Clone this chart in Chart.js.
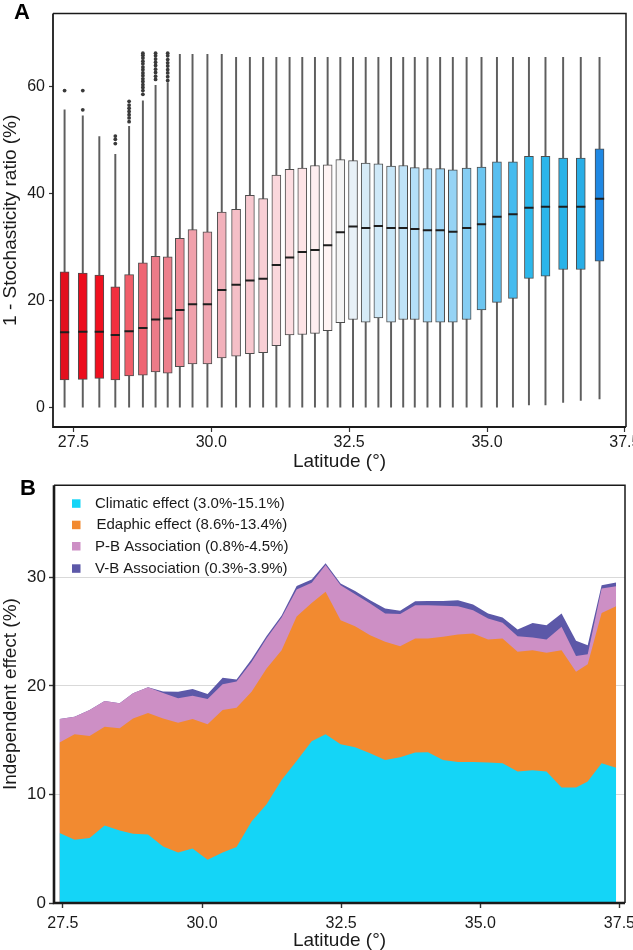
<!DOCTYPE html>
<html>
<head>
<meta charset="utf-8">
<script src="https://cdn.jsdelivr.net/npm/chart.js@4.4.0/dist/chart.umd.min.js"></script>
<style>
  html, body { margin: 0; padding: 0; background: #fff; }
  #chartA { position: absolute; left: 0; top: 0; }
  #chartB { position: absolute; left: 0; top: 472px; }
</style>
</head>
<body>
<canvas id="chartA" width="633" height="472"></canvas>
<canvas id="chartB" width="633" height="478"></canvas>
<script>
// ---- panel A : box plots per latitude bin ----
const latA = [27.34, 27.67, 27.97, 28.26, 28.51, 28.76, 28.99, 29.21, 29.43, 29.66, 29.93, 30.19, 30.45,
  30.70, 30.94, 31.18, 31.42, 31.65, 31.88, 32.11, 32.34, 32.57, 32.80, 33.03, 33.26, 33.48,
  33.69, 33.92, 34.15, 34.38, 34.63, 34.90, 35.18, 35.47, 35.76, 36.06, 36.38, 36.70, 37.04];
const lowA = [0, 0, 0, 0, 0, 0, 0, 0, 0, 0, 0, 0, 0, 0, 0, 0, 0, 0, 0, 0, 0, 0, 0, 0, 0, 0,
  0, 0, 0, 0, 0, 0, 0, 0, 0.55, 0.55, 1.0, 1.35, 1.65];
const q1A = [5.2, 5.3, 5.5, 5.2, 5.95, 6.1, 6.7, 6.45, 7.7, 8.2, 8.2, 9.3, 9.65, 10.1, 10.3, 11.6, 13.6,
  13.7, 13.9, 14.4, 15.9, 16.5, 16.0, 16.8, 16.0, 16.5, 16.5, 16.0, 16.0, 16.0, 16.5, 18.3, 19.7,
  20.45, 24.2, 24.6, 25.85, 25.85, 27.4];
const medA = [14.1, 14.2, 14.2, 13.6, 14.3, 14.9, 16.5, 16.7, 18.3, 19.35, 19.35, 22.0, 23.0, 23.8, 24.1,
  26.7, 28.1, 29.1, 29.5, 30.4, 32.8, 33.9, 33.6, 34.0, 33.6, 33.6, 33.4, 33.2, 33.2, 32.9, 33.6,
  34.3, 35.7, 36.2, 37.4, 37.6, 37.6, 37.6, 39.1];
const q3A = [25.4, 25.2, 24.8, 22.6, 24.9, 27.1, 28.3, 28.2, 31.7, 33.3, 32.9, 36.6, 37.1, 39.7, 39.1,
  43.5, 44.6, 44.8, 45.3, 45.4, 46.4, 46.2, 45.75, 45.6, 45.2, 45.3, 44.9, 44.7, 44.7, 44.5, 44.8,
  45.0, 46.0, 46.0, 47.0, 47.0, 46.7, 46.7, 48.4];
const highA = [55.7, 54.6, 50.7, 47.4, 52.6, 57.4, 60.3, 60.8, 66.1, 66.1, 66.1, 66.1, 65.5, 65.5, 65.5,
  65.5, 65.5, 65.5, 65.5, 65.5, 65.5, 65.5, 65.5, 65.5, 65.5, 65.5, 65.5, 65.5, 65.5, 65.5, 65.5,
  65.5, 65.5, 65.5, 65.5, 65.5, 65.5, 65.5, 65.5];
// outliers of the first bins (the other bins have none)
const outliersA = [
  [59.3],
  [59.3, 55.7],
  [],
  [50.8, 50.2, 49.4],
  [57.3, 56.6, 56.0, 55.4, 54.8, 54.2, 53.5],
  [66.3, 65.9, 65.4, 64.8, 64.3, 63.7, 63.2, 62.6, 62.1, 61.5, 61.0, 60.4, 59.9, 59.3, 58.6],
  [66.3, 65.8, 65.2, 64.6, 64.0, 63.3, 62.7, 62.0, 61.4],
  [66.3, 65.8, 65.1, 64.5, 63.9, 63.2, 62.6, 61.9, 61.2]
];
const yTicksA = [0, 20, 40, 60];
const xTicks = [27.5, 30, 32.5, 35, 37.5];

// ---- panel B : stacked independent effects ----
const latB = [27.44, 27.71, 27.98, 28.25, 28.52, 28.76, 29.03, 29.30, 29.57, 29.83, 30.10, 30.37, 30.62,
  30.89, 31.16, 31.43, 31.70, 31.97, 32.22, 32.49, 32.75, 33.02, 33.29, 33.56, 33.83, 34.06,
  34.33, 34.60, 34.87, 35.14, 35.40, 35.67, 35.94, 36.19, 36.46, 36.72, 36.93, 37.18, 37.44];
const climatic = [6.44, 5.82, 5.98, 7.14, 6.68, 6.38, 6.31, 5.21, 4.66, 5.02, 3.98, 4.66, 5.15, 7.51, 9.10,
  11.34, 13.09, 14.90, 15.55, 14.63, 14.35, 13.80, 13.18, 13.43, 13.86, 13.89, 13.18, 13.00, 13.00,
  12.94, 12.88, 12.11, 12.24, 12.11, 10.64, 10.64, 11.19, 12.88, 12.47];
const edaphic = [8.36, 9.73, 9.42, 9.11, 9.42, 10.62, 11.19, 11.79, 11.94, 11.93, 12.49, 13.12, 12.85,
  11.96, 12.50, 11.96, 13.31, 12.75, 13.12, 11.43, 11.16, 10.88, 10.89, 10.24, 10.52, 10.49, 11.35,
  11.75, 11.84, 11.35, 11.50, 11.04, 11.06, 10.95, 12.66, 10.67, 10.82, 13.85, 14.88];
const pbAssoc = [2.16, 1.62, 2.38, 2.36, 2.30, 2.32, 2.37, 2.35, 2.26, 2.15, 2.33, 2.37, 2.40, 2.73, 2.80,
  3.00, 2.50, 1.85, 2.48, 3.22, 2.94, 2.92, 2.61, 2.95, 3.06, 3.06, 2.85, 2.60, 2.14, 1.93, 1.44,
  1.44, 1.17, 1.23, 2.15, 1.44, 0.92, 2.25, 1.84];
const vbAssoc = [0, 0, 0, 0, 0, 0, 0, 0.15, 0.61, 0.62, 0.46, 0.61, 0.20, 0.25, 0.20, 0.20, 0.30, 0.30,
  0.15, 0.16, 0.31, 0.30, 0.46, 0.30, 0.37, 0.40, 0.46, 0.55, 0.52, 0.46, 0.49, 0.61, 1.33, 1.31,
  1.23, 1.41, 0.83, 0.30, 0.34];
const seriesLabels = ['Climatic effect (3.0%-15.1%)', 'Edaphic effect (8.6%-13.4%)',
  'P-B Association (0.8%-4.5%)', 'V-B Association (0.3%-3.9%)'];
const yTicksB = [0, 10, 20, 30];

// styles
const family = '"Liberation Sans", Arial, sans-serif';
const boxColors = ['#e3101e', '#ec0c1c', '#f0101f', '#f2303f', '#f15e6a', '#ee6674', '#ec7b88', '#ec7f8c',
  '#ee8c98', '#f0a0ab', '#f0a6b1', '#f2b1bb', '#f5bfc7', '#f7c8cf', '#f8cfd5', '#fad7dc', '#fcdde1',
  '#fde4e7', '#feeef0', '#fff4f4', '#f4f4f4', '#e8f1f7', '#d5ebf7', '#cfe9f8', '#c7e6f8', '#bfe3f8',
  '#b4dff8', '#a8dbf8', '#a0d7f7', '#95d3f5', '#85cdf3', '#6cc5f0', '#58bff0', '#46bbee', '#2cb7eb',
  '#2bb6eb', '#2ab3e8', '#29aee6', '#1f88e3'];
const areaColors = ['#14d5f7', '#f28a30', '#cd8fc5', '#5c58a8'];

function framePlugin(letter, lx, ly, sideW, axisW) {
  return {
    id: 'frame' + letter,
    afterDraw(chart) {
      const a = chart.chartArea, c = chart.ctx;
      c.save();
      c.strokeStyle = '#1a1a1a';
      c.lineWidth = sideW;
      c.beginPath();
      c.moveTo(a.left, a.top); c.lineTo(a.right, a.top); c.lineTo(a.right, a.bottom);
      c.stroke();
      c.lineWidth = axisW;
      c.beginPath();
      c.moveTo(a.left, a.top); c.lineTo(a.left, a.bottom); c.lineTo(a.right, a.bottom);
      c.stroke();
      c.fillStyle = '#000';
      c.font = 'bold 22px ' + family;
      c.fillText(letter, lx, ly);
      c.restore();
    }
  };
}

const noPad = s => { s.paddingLeft = 0; s.paddingRight = 0; };

// ---------- chart A ----------
const outlierPts = [];
outliersA.forEach((vals, i) => vals.forEach(v => outlierPts.push({x: latA[i], y: v})));

new Chart(document.getElementById('chartA').getContext('2d'), {
  type: 'bar',
  data: {
    datasets: [
      {
        type: 'scatter',
        data: outlierPts,
        pointRadius: 1.9,
        pointBackgroundColor: '#3a3a3a',
        pointBorderWidth: 0,
        order: 0
      },
      {
        type: 'scatter',
        data: latA.map((x, i) => ({x: x, y: medA[i]})),
        pointStyle: 'line',
        pointRadius: 4.6,
        pointBorderWidth: 2,
        pointBorderColor: '#1e1e1e',
        order: 1
      },
      {
        data: latA.map((x, i) => ({x: x, y: [q1A[i], q3A[i]]})),
        backgroundColor: boxColors,
        borderColor: '#4d4d4d',
        borderWidth: 1,
        borderSkipped: false,
        barThickness: 9,
        grouped: false,
        order: 2
      },
      {
        data: latA.map((x, i) => ({x: x, y: [lowA[i], highA[i]]})),
        backgroundColor: '#5e5e5e',
        barThickness: 1.3,
        grouped: false,
        order: 3
      }
    ]
  },
  options: {
    responsive: false,
    animation: false,
    layout: { padding: { top: 8, right: 7, left: 0, bottom: 0 } },
    plugins: { legend: { display: false }, tooltip: { enabled: false } },
    scales: {
      x: {
        type: 'linear', min: 27.13, max: 37.52, offset: false,
        afterBuildTicks: s => { s.ticks = xTicks.map(v => ({value: v})); },
        afterFit: s => { s.height = 45; noPad(s); },
        border: { display: false },
        grid: { display: true, offset: false, drawOnChartArea: false, drawTicks: true, tickLength: 5, tickColor: '#333', tickWidth: 1.2 },
        ticks: { color: '#1a1a1a', font: { family: family, size: 16 }, padding: 1, maxRotation: 0, autoSkip: false,
          callback: v => v.toFixed(1) },
        title: { display: true, text: 'Latitude (°)', color: '#1a1a1a',
          font: { family: family, size: 19, lineHeight: 1 }, padding: { top: 0, bottom: 1 } }
      },
      y: {
        type: 'linear', min: -3.6, max: 73.7,
        afterBuildTicks: s => { s.ticks = yTicksA.map(v => ({value: v})); },
        afterFit: s => { s.width = 53; },
        border: { display: false },
        grid: { display: true, drawOnChartArea: false, drawTicks: true, tickLength: 4, tickColor: '#333', tickWidth: 1.2 },
        ticks: { color: '#1a1a1a', font: { family: family, size: 16 }, padding: 4 },
        title: { display: true, text: '1 - Stochasticity ratio (%)', color: '#1a1a1a',
          font: { family: family, size: 19, lineHeight: 1 }, padding: { top: 1, bottom: 0 } }
      }
    }
  },
  plugins: [framePlugin('A', 14, 19, 1.5, 1.8)]
});

// ---------- chart B ----------
const legendB = {
  id: 'legendB',
  afterDraw(chart) {
    const c = chart.ctx;
    const rows = [31.3, 52.7, 74, 96.3];
    c.save();
    c.font = '15px ' + family;
    c.textBaseline = 'middle';
    seriesLabels.forEach((t, i) => {
      c.fillStyle = areaColors[i];
      c.fillRect(72, rows[i] - 4, 8.5, 8.5);
      c.fillStyle = '#1a1a1a';
      c.fillText(t, i === 1 ? 96.5 : 95, rows[i] + 0.5);
    });
    c.restore();
  }
};

const layers = [climatic, edaphic, pbAssoc, vbAssoc];

new Chart(document.getElementById('chartB').getContext('2d'), {
  type: 'line',
  data: {
    datasets: layers.map((vals, k) => ({
      label: seriesLabels[k],
      data: latB.map((x, i) => ({x: x, y: vals[i]})),
      backgroundColor: areaColors[k],
      borderWidth: 0,
      pointRadius: 0,
      tension: 0,
      fill: 'origin'
    }))
  },
  options: {
    responsive: false,
    animation: false,
    layout: { padding: { top: 13, right: 8, left: 0, bottom: 0 } },
    plugins: { legend: { display: false }, tooltip: { enabled: false } },
    scales: {
      x: {
        type: 'linear', min: 27.34, max: 37.6,
        afterBuildTicks: s => { s.ticks = xTicks.map(v => ({value: v})); },
        afterFit: s => { s.height = 47; noPad(s); },
        border: { display: false },
        grid: { display: true, drawOnChartArea: false, drawTicks: true, tickLength: 5, tickColor: '#333', tickWidth: 1.4 },
        ticks: { color: '#1a1a1a', font: { family: family, size: 16 }, padding: 6, maxRotation: 0, autoSkip: false,
          callback: v => v.toFixed(1) },
        title: { display: true, text: 'Latitude (°)', color: '#1a1a1a',
          font: { family: family, size: 19, lineHeight: 1 }, padding: { top: 0, bottom: 0 } }
      },
      y: {
        type: 'linear', stacked: true, min: 0, max: 38.5,
        afterBuildTicks: s => { s.ticks = yTicksB.map(v => ({value: v})); },
        afterFit: s => { s.width = 54; },
        border: { display: false },
        grid: { display: true, drawOnChartArea: true, color: '#d9d9d9', lineWidth: 1,
          drawTicks: true, tickLength: 5, tickColor: '#333', tickWidth: 1.4 },
        ticks: { color: '#1a1a1a', font: { family: family, size: 17 }, padding: 3 },
        title: { display: true, text: 'Independent effect (%)', color: '#1a1a1a',
          font: { family: family, size: 19, lineHeight: 1 }, padding: { top: 1, bottom: 0 } }
      }
    }
  },
  plugins: [legendB, framePlugin('B', 20, 23, 1.5, 2.6)]
});
</script>
</body>
</html>
